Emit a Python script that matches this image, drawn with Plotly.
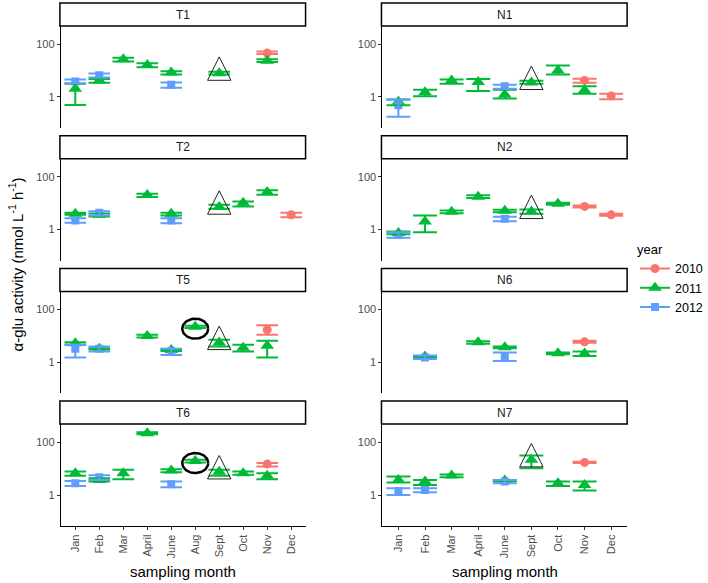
import numpy as np
import plotly.graph_objects as go

# ---------------- data ----------------
months_T = ["Jan", "Feb", "Mar", "April", "June", "Aug", "Sept", "Oct", "Nov", "Dec"]
months_N = ["Jan", "Feb", "Mar", "April", "June", "Sept", "Oct", "Nov", "Dec"]
years = ["2010", "2011", "2012"]
year_colors = ["#F8766D", "#00BA38", "#619CFF"]
year_symbols = ["circle", "triangle-up", "square"]
year_sizes = [9, 12, 8]

T1_month = ["Jan", "Jan", "Feb", "Feb", "Mar", "April", "June", "June", "Sept", "Nov", "Nov"]
T1_year = ["2012", "2011", "2012", "2011", "2011", "2011", "2011", "2012", "2011", "2010", "2011"]
T1_mean = [3.87, 2.05, 6.68, 4.22, 26.6, 16.3, 8.41, 2.90, 7.94, 45.9, 23.7]
T1_low = [3.26, 0.49, 5.46, 3.45, 21.8, 13.3, 7.08, 2.24, 7.08, 42.2, 21.1]
T1_high = [4.60, 3.16, 7.72, 4.73, 30.7, 18.8, 9.44, 3.55, 8.91, 53.1, 26.6]

N1_month = ["Jan", "Jan", "Feb", "Mar", "April", "June", "June", "Sept", "Oct", "Nov", "Nov", "Dec"]
N1_year = ["2012", "2011", "2011", "2011", "2011", "2012", "2011", "2011", "2011", "2010", "2011", "2010"]
N1_mean = [0.487, 0.649, 1.50, 4.22, 3.65, 2.51, 1.22, 3.55, 10.0, 4.22, 1.78, 1.09]
N1_low = [0.178, 0.487, 1.06, 3.16, 1.68, 2.05, 0.866, 3.16, 7.08, 3.45, 1.33, 0.818]
N1_high = [0.794, 0.794, 1.88, 4.60, 4.73, 2.90, 1.88, 4.10, 15.4, 4.87, 2.51, 1.33]

T2_month = ["Jan", "Jan", "Feb", "Feb", "April", "June", "June", "Sept", "Oct", "Nov", "Dec"]
T2_year = ["2011", "2012", "2012", "2011", "2011", "2011", "2012", "2011", "2011", "2011", "2010"]
T2_mean = [3.97, 2.21, 4.34, 3.64, 20.5, 3.97, 2.21, 7.14, 10.4, 26.7, 3.64]
T2_low = [3.64, 1.80, 3.43, 3.14, 17.2, 3.43, 1.75, 6.17, 7.57, 21.1, 2.96]
T2_high = [4.34, 2.71, 5.02, 4.08, 23.1, 4.34, 2.71, 8.77, 11.7, 30.9, 4.34]

N2_month = ["Jan", "Jan", "Feb", "Mar", "April", "June", "June", "Sept", "Oct", "Nov", "Dec"]
N2_year = ["2012", "2011", "2011", "2011", "2011", "2011", "2012", "2011", "2011", "2010", "2010"]
N2_mean = [0.625, 0.746, 2.02, 4.73, 17.7, 5.16, 2.56, 4.88, 9.57, 7.57, 3.64]
N2_low = [0.494, 0.664, 0.791, 4.21, 15.7, 4.59, 2.08, 3.97, 8.77, 6.93, 3.33]
N2_high = [0.791, 0.839, 3.43, 5.32, 19.9, 5.65, 3.05, 5.81, 10.4, 8.26, 3.97]

T5_month = ["Jan", "Jan", "Feb", "Feb", "April", "June", "June", "Aug", "Sept", "Oct", "Nov", "Nov"]
T5_year = ["2011", "2012", "2012", "2011", "2011", "2012", "2011", "2011", "2011", "2011", "2010", "2011"]
T5_mean = [5.32, 3.24, 3.24, 3.24, 9.86, 2.71, 2.96, 22.4, 5.65, 3.53, 17.2, 4.21]
T5_low = [4.59, 1.51, 2.56, 3.05, 8.77, 1.91, 2.71, 19.9, 3.97, 2.56, 11.1, 1.51]
T5_high = [5.81, 4.59, 3.97, 3.43, 11.1, 3.24, 3.14, 24.4, 7.14, 4.59, 25.2, 6.53]

N6_month = ["Feb", "Feb", "April", "June", "June", "Oct", "Nov", "Nov"]
N6_year = ["2012", "2011", "2011", "2011", "2012", "2011", "2010", "2011"]
N6_mean = [1.51, 1.65, 5.81, 3.74, 1.65, 2.21, 5.98, 2.14]
N6_low = [1.34, 1.51, 5.02, 3.43, 1.12, 2.02, 5.48, 1.75]
N6_high = [1.80, 1.75, 6.35, 3.97, 2.34, 2.34, 6.53, 2.56]

T6_month = ["Jan", "Jan", "Feb", "Feb", "Mar", "April", "June", "June", "Aug", "Sept", "Oct", "Nov", "Nov"]
T6_year = ["2011", "2012", "2012", "2011", "2011", "2011", "2011", "2012", "2011", "2011", "2011", "2010", "2011"]
T6_mean = [6.73, 2.79, 4.73, 3.74, 6.73, 220, 8.51, 2.56, 19.4, 7.57, 6.73, 14.9, 5.32]
T6_low = [5.32, 2.21, 3.74, 3.24, 3.97, 200, 7.35, 1.96, 17.2, 5.32, 5.81, 12.1, 3.97]
T6_high = [7.80, 3.43, 5.65, 4.34, 9.02, 240, 9.57, 3.24, 21.8, 9.02, 7.80, 16.2, 6.73]

N7_month = ["Jan", "Jan", "Feb", "Feb", "Mar", "June", "June", "Sept", "Oct", "Nov", "Nov"]
N7_year = ["2011", "2012", "2011", "2012", "2011", "2011", "2012", "2011", "2011", "2010", "2011"]
N7_mean = [3.74, 1.42, 3.24, 1.55, 5.48, 3.53, 3.24, 21.8, 2.79, 17.2, 2.41]
N7_low = [2.96, 1.00, 2.41, 1.26, 4.73, 3.33, 2.79, 10.4, 2.21, 16.2, 1.47]
N7_high = [5.02, 1.80, 3.74, 1.80, 5.98, 3.74, 3.74, 31.8, 3.24, 18.2, 3.24]

panel_sites = ["T1", "N1", "T2", "N2", "T5", "N6", "T6", "N7"]
sept_marked_sites = ["T1", "N1", "T2", "N2", "T5", "T6", "N7"]
aug_circled_sites = ["T5", "T6"]

site_data = {
    "T1": (T1_month, T1_year, T1_mean, T1_low, T1_high),
    "N1": (N1_month, N1_year, N1_mean, N1_low, N1_high),
    "T2": (T2_month, T2_year, T2_mean, T2_low, T2_high),
    "N2": (N2_month, N2_year, N2_mean, N2_low, N2_high),
    "T5": (T5_month, T5_year, T5_mean, T5_low, T5_high),
    "N6": (N6_month, N6_year, N6_mean, N6_low, N6_high),
    "T6": (T6_month, T6_year, T6_mean, T6_low, T6_high),
    "N7": (N7_month, N7_year, N7_mean, N7_low, N7_high),
}

# ---------------- geometry ----------------
W, H = 708, 583


def PX(p):
    return p / W


def PY(p):
    return 1 - p / H


col_px = [(61, 306), (383, 628)]
row_top = [26 + 132.7 * i for i in range(4)]
plot_h = 102
strip_h = 23
y_range = [-1.18, 2.69]
font_family = "Liberation Sans, Arial, sans-serif"

fig = go.Figure()
layout_axes = {}
shapes = []
annotations = []

for k, site in enumerate(panel_sites):
    row, col = k // 2, k % 2
    months = months_T if col == 0 else months_N
    n = len(months)
    x0, x1 = col_px[col]
    top = row_top[row]
    sfx = "" if k == 0 else str(k + 1)
    xa, ya = "x" + sfx, "y" + sfx
    bottom_row = row == 3
    layout_axes["xaxis" + sfx] = dict(
        domain=[PX(x0), PX(x1)], anchor=ya, range=[0.4, n + 0.6],
        tickmode="array", tickvals=list(range(1, n + 1)), ticktext=months,
        showticklabels=bottom_row, ticks="outside" if bottom_row else "",
        ticklen=3, tickcolor="#333333", tickwidth=1,
        showline=bottom_row, linecolor="black", linewidth=1.2,
        showgrid=False, zeroline=False, tickangle=-90,
        tickfont=dict(size=11, color="#4d4d4d", family=font_family),
    )
    layout_axes["yaxis" + sfx] = dict(
        domain=[PY(top + plot_h), PY(top)], anchor=xa,
        type="log", range=y_range, tickmode="array", tickvals=[1, 100],
        ticktext=["1", "100"], ticks="outside", ticklen=3, tickcolor="#333333",
        showline=True, linecolor="black", linewidth=1.2,
        showgrid=False, zeroline=False,
        tickfont=dict(size=11, color="#4d4d4d", family=font_family),
    )
    # strip
    shapes.append(dict(type="rect", xref="paper", yref="paper",
                       x0=PX(x0 - 1), x1=PX(x1),
                       y0=PY(top), y1=PY(top - strip_h),
                       line=dict(color="black", width=1.5), fillcolor="white"))
    annotations.append(dict(text=site, xref="paper", yref="paper",
                            x=PX((x0 + x1) / 2), y=PY(top - strip_h / 2),
                            showarrow=False, xanchor="center", yanchor="middle",
                            font=dict(size=12, color="#1a1a1a", family=font_family)))

    m, yr, mean, low, high = site_data[site]
    idx = {mo: i + 1 for i, mo in enumerate(months)}
    unit_px = (x1 - x0) / (n + 0.2)
    half_w = 0.45 * unit_px  # errorbar width 0.9 category units
    # points
    for yi, year in enumerate(years):
        sel = [i for i in range(len(m)) if yr[i] == year]
        if not sel:
            continue
        fig.add_trace(go.Scatter(
            x=[idx[m[i]] for i in sel], y=[mean[i] for i in sel],
            xaxis=xa, yaxis=ya, mode="markers", showlegend=False, hoverinfo="skip",
            marker=dict(symbol=year_symbols[yi], color=year_colors[yi],
                        size=year_sizes[yi], line=dict(width=0)),
        ))
    # error bars drawn on top of points
    for yi, year in enumerate(years):
        sel = [i for i in range(len(m)) if yr[i] == year]
        if not sel:
            continue
        fig.add_trace(go.Scatter(
            x=[idx[m[i]] for i in sel], y=[mean[i] for i in sel],
            xaxis=xa, yaxis=ya, mode="markers", showlegend=False, hoverinfo="skip",
            marker=dict(color="rgba(0,0,0,0)", size=1),
            error_y=dict(type="data", symmetric=False,
                         array=[high[i] - mean[i] for i in sel],
                         arrayminus=[mean[i] - low[i] for i in sel],
                         color=year_colors[yi], thickness=2, width=half_w),
        ))

    # open triangle around the September 2011 point
    if site in sept_marked_sites:
        j = [i for i in range(len(m)) if m[i] == "Sept" and yr[i] == "2011"][0]
        xc = idx["Sept"]
        lp = np.log10(mean[j])
        hw = 11.7 / unit_px
        fig.add_trace(go.Scatter(
            x=[xc - hw, xc, xc + hw, xc - hw],
            y=[10 ** (lp - 0.27), 10 ** (lp + 0.62), 10 ** (lp - 0.27), 10 ** (lp - 0.27)],
            xaxis=xa, yaxis=ya, mode="lines", showlegend=False, hoverinfo="skip",
            line=dict(color="#222222", width=1),
        ))
    # ellipse around the August 2011 point
    if site in aug_circled_sites:
        j = [i for i in range(len(m)) if m[i] == "Aug" and yr[i] == "2011"][0]
        xc = idx["Aug"]
        lp = np.log10(mean[j]) - 0.075
        th = np.linspace(0, 2 * np.pi, 73)
        a = 13.0 / unit_px
        b = 10.0 / 26.4
        fig.add_trace(go.Scatter(
            x=xc + a * np.cos(th), y=10 ** (lp + b * np.sin(th)),
            xaxis=xa, yaxis=ya, mode="lines", showlegend=False, hoverinfo="skip",
            line=dict(color="black", width=2.5),
        ))

# legend entries
for yi, year in enumerate(years):
    fig.add_trace(go.Scatter(
        x=[None], y=[None], xaxis="x", yaxis="y", mode="lines+markers", name=year,
        marker=dict(symbol=year_symbols[yi], color=year_colors[yi], size=year_sizes[yi]),
        line=dict(color=year_colors[yi], width=2), showlegend=True,
    ))

# axis titles
annotations.append(dict(text="α-glu activity (nmol L<sup>-1</sup> h<sup>-1</sup>)",
                        xref="paper", yref="paper", x=PX(16), y=PY(264.5),
                        textangle=-90, showarrow=False, xanchor="center", yanchor="middle",
                        font=dict(size=15, color="black", family=font_family)))
for col in range(2):
    x0, x1 = col_px[col]
    annotations.append(dict(text="sampling month", xref="paper", yref="paper",
                            x=PX((x0 + x1) / 2), y=PY(571), showarrow=False,
                            xanchor="center", yanchor="middle",
                            font=dict(size=15, color="black", family=font_family)))

fig.update_layout(
    width=W, height=H, margin=dict(l=0, r=0, t=0, b=0),
    paper_bgcolor="white", plot_bgcolor="white",
    font=dict(family=font_family, size=12),
    shapes=shapes, annotations=annotations,
    legend=dict(x=PX(636), xanchor="left", y=PY(237), yanchor="top",
                title=dict(text="year", font=dict(size=13, color="black", family=font_family)),
                font=dict(size=12.5, color="black", family=font_family),
                bgcolor="rgba(0,0,0,0)", tracegroupgap=0),
    **layout_axes,
)

# remove the default 8px page margin so the 708x583 figure fills the window exactly
fig.write_html("out.html", config={"displayModeBar": False},
               post_script="document.body.style.margin='0px';")
